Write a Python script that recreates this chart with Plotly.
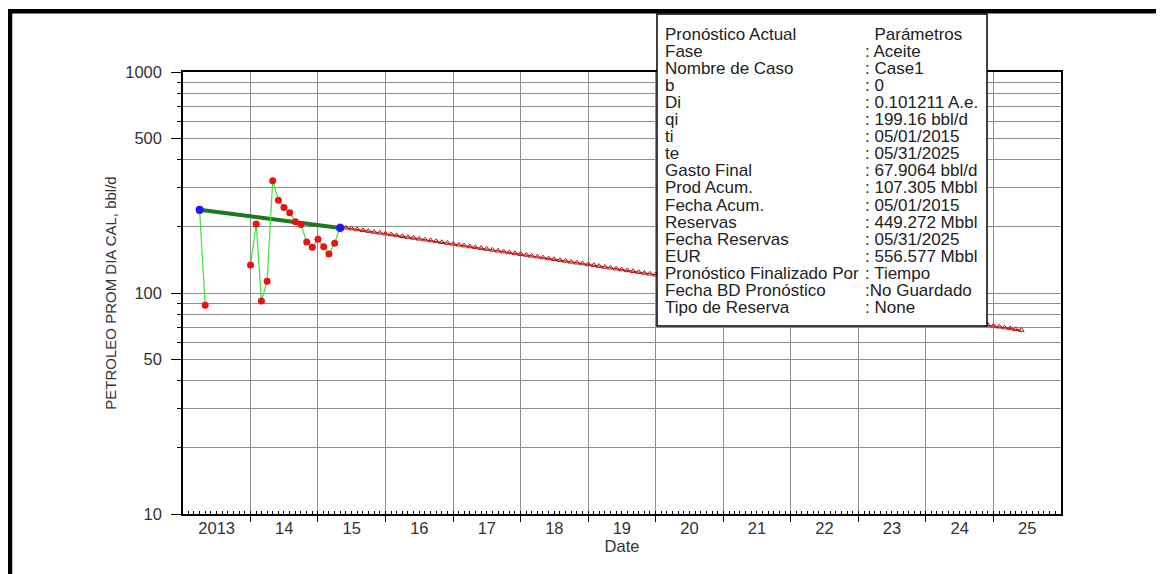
import plotly.graph_objects as go
import pandas as pd

# ---------------- data ----------------
hist_dates = ["2013-04-01", "2013-05-01", "2013-06-01",
              "2014-01-01", "2014-02-01", "2014-03-01", "2014-04-01", "2014-05-01", "2014-06-01",
              "2014-07-01", "2014-08-01", "2014-09-01", "2014-10-01", "2014-11-01", "2014-12-01",
              "2015-01-01", "2015-02-01", "2015-03-01", "2015-04-01", "2015-05-01"]
hist_rate = [236, 88, None,
             134, 205, 92, 113, 322, 263,
             244, 231, 210, 204, 170, 161,
             175, 162, 150, 168, 199]

fit_dates = ["2013-04-01", "2015-05-01"]
fit_rate = [238, 197]

forecast_dates = list(pd.date_range("2015-05-01", "2025-05-01", freq="MS").strftime("%Y-%m-%d")) + ["2025-05-31"]
forecast_rate = [
    199.16, 197.40, 195.65, 193.92, 192.20, 190.50, 188.81, 187.14, 185.48, 183.84, 182.21, 180.60,
    179.00, 177.42, 175.85, 174.29, 172.75, 171.22, 169.70, 168.20, 166.71, 165.24, 163.77, 162.32,
    160.89, 159.46, 158.05, 156.65, 155.26, 153.89, 152.53, 151.18, 149.84, 148.51, 147.20, 145.89,
    144.60, 143.32, 142.05, 140.80, 139.55, 138.31, 137.09, 135.88, 134.67, 133.48, 132.30, 131.13,
    129.97, 128.82, 127.68, 126.55, 125.42, 124.31, 123.21, 122.12, 121.04, 119.97, 118.91, 117.86,
    116.81, 115.78, 114.75, 113.74, 112.73, 111.73, 110.74, 109.76, 108.79, 107.83, 106.87, 105.93,
    104.99, 104.06, 103.14, 102.23, 101.32, 100.42, 99.53, 98.65, 97.78, 96.91, 96.06, 95.21,
    94.36, 93.53, 92.70, 91.88, 91.07, 90.26, 89.46, 88.67, 87.88, 87.11, 86.33, 85.57,
    84.81, 84.06, 83.32, 82.58, 81.85, 81.12, 80.41, 79.69, 78.99, 78.29, 77.60, 76.91,
    76.23, 75.55, 74.88, 74.22, 73.56, 72.91, 72.27, 71.63, 70.99, 70.37, 69.74, 69.13,
    68.51, 67.91]

year_labels = ["2013", "14", "15", "16", "17", "18", "19", "20", "21", "22", "23", "24", "25"]
year_label_pos = [f"{2013 + i}-07-02" for i in range(len(year_labels))]
year_bounds = [f"{y}-01-01" for y in range(2014, 2026)]
month_ticks = list(pd.date_range("2013-01-01", "2026-01-01", freq="MS").strftime("%Y-%m-%d"))

y_major = [10, 50, 100, 500, 1000]
y_minor = [20, 30, 40, 60, 70, 80, 90, 200, 300, 400, 600, 700, 800, 900]

info_labels = ["Pronóstico Actual", "Fase", "Nombre de Caso", "b", "Di", "qi", "ti", "te",
               "Gasto Final", "Prod Acum.", "Fecha Acum.", "Reservas", "Fecha Reservas", "EUR",
               "Pronóstico Finalizado Por", "Fecha BD Pronóstico", "Tipo de Reserva"]
info_values = ["\u00a0\u00a0Parámetros", ": Aceite", ": Case1", ": 0", ": 0.101211 A.e.", ": 199.16 bbl/d",
               ": 05/01/2015", ": 05/31/2025", ": 67.9064 bbl/d", ": 107.305 Mbbl", ": 05/01/2015",
               ": 449.272 Mbbl", ": 05/31/2025", ": 556.577 Mbbl", ": Tiempo", ":No Guardado", ": None"]

# ---------------- figure ----------------
FONT = "Liberation Sans, Arial, sans-serif"
OFF = 8                      # page body margin
W, H = 1164, 574
ML, MT = 183 - OFF, 72 - OFF
PW, PH = 878, 442
MR, MB = W - ML - PW, H - MT - PH


def px_x(px):   # window pixel -> paper x
    return (px - OFF - ML) / PW


def px_y(py):   # window pixel -> paper y
    return (MT + PH - (py - OFF)) / PH


fig = go.Figure()

# helper for monthly tick axis
fig.add_trace(go.Scatter(x=[month_ticks[0]], y=[None], xaxis="x2", mode="markers",
                         showlegend=False, hoverinfo="skip"))

fig.add_trace(go.Scatter(x=forecast_dates, y=forecast_rate, mode="lines+markers",
                         line=dict(color="#b81414", width=1),
                         marker=dict(symbol="triangle-up-open", size=5, color="#b81414", line=dict(width=1)),
                         showlegend=False))

fig.add_trace(go.Scatter(x=fit_dates, y=fit_rate, mode="lines",
                         line=dict(color="#1c7a1c", width=4), showlegend=False))

fig.add_trace(go.Scatter(x=hist_dates, y=hist_rate, mode="lines+markers", connectgaps=False,
                         line=dict(color="#3ee23e", width=1.2),
                         marker=dict(symbol="circle", size=7, color="#ee1111"),
                         showlegend=False))

fig.add_trace(go.Scatter(x=fit_dates, y=fit_rate, mode="markers",
                         marker=dict(symbol="circle", size=8, color="#1a1aff"), showlegend=False))

xrange = ["2013-01-01", "2026-01-01"]

fig.update_layout(
    width=W, height=H,
    margin=dict(l=ML, r=MR, t=MT, b=MB, pad=0),
    paper_bgcolor="white", plot_bgcolor="white",
    font=dict(family=FONT, size=16, color="#333333"),
    xaxis=dict(
        type="date", range=xrange,
        tickmode="array", tickvals=year_label_pos, ticktext=year_labels,
        ticks="", showgrid=False, zeroline=False,
        showline=True, linecolor="black", linewidth=1.5, mirror=True,
        tickfont=dict(size=16.5, color="#333333"),
        ticklabelstandoff=-2,
        minor=dict(tickmode="array", tickvals=year_bounds, showgrid=True,
                   gridcolor="#8e8e8e", gridwidth=1, ticks="outside", ticklen=6,
                   tickcolor="black", tickwidth=1),
        title=dict(text="Date", font=dict(size=16.5, color="#333333"), standoff=2),
    ),
    xaxis2=dict(
        type="date", range=xrange, overlaying="x", anchor="y", side="bottom",
        tickmode="array", tickvals=month_ticks, ticks="inside", ticklen=3,
        tickcolor="black", tickwidth=1, showticklabels=False, showgrid=False,
        showline=False, zeroline=False,
    ),
    yaxis=dict(
        type="log", range=[1, 3],
        tickmode="array", tickvals=y_major, ticktext=[str(v) for v in y_major],
        ticks="outside", ticklen=10, tickcolor="black", tickwidth=1,
        showgrid=True, gridcolor="#8e8e8e", gridwidth=1, zeroline=False,
        showline=True, linecolor="black", linewidth=1.5, mirror=True,
        tickfont=dict(size=16.5, color="#333333"),
        ticklabelstandoff=6,
        minor=dict(tickmode="array", tickvals=y_minor, showgrid=True,
                   gridcolor="#8e8e8e", gridwidth=1, ticks="outside", ticklen=4,
                   tickcolor="black", tickwidth=1),
        title=dict(text="PETROLEO PROM DIA CAL, bbl/d", font=dict(size=15, color="#333333"), standoff=5),
    ),
)

shapes = []
# info box
shapes.append(dict(type="rect", xref="paper", yref="paper",
                   x0=px_x(657), x1=px_x(987), y0=px_y(326), y1=px_y(14),
                   fillcolor="white", line=dict(color="black", width=1.5), layer="above"))
# outer frame (top and left edges)
shapes.append(dict(type="line", xref="paper", yref="paper",
                   x0=px_x(0), x1=px_x(W + 10), y0=px_y(11.3), y1=px_y(11.3),
                   line=dict(color="black", width=4.5), layer="above"))
shapes.append(dict(type="line", xref="paper", yref="paper",
                   x0=px_x(10), x1=px_x(10), y0=px_y(9.3), y1=px_y(H + 10),
                   line=dict(color="black", width=4.5), layer="above"))
fig.update_layout(shapes=shapes)

annotations = []
for i, (lab, val) in enumerate(zip(info_labels, info_values)):
    yc = px_y(34 + 17.1 * i)
    annotations.append(dict(xref="paper", yref="paper", x=px_x(662.7), y=yc, text=lab,
                            showarrow=False, xanchor="left", yanchor="middle",
                            font=dict(size=17, color="#222222", family=FONT)))
    annotations.append(dict(xref="paper", yref="paper", x=px_x(863), y=yc, text=val,
                            showarrow=False, xanchor="left", yanchor="middle",
                            font=dict(size=17, color="#222222", family=FONT)))
fig.update_layout(annotations=annotations)

fig.write_html("out.html")
